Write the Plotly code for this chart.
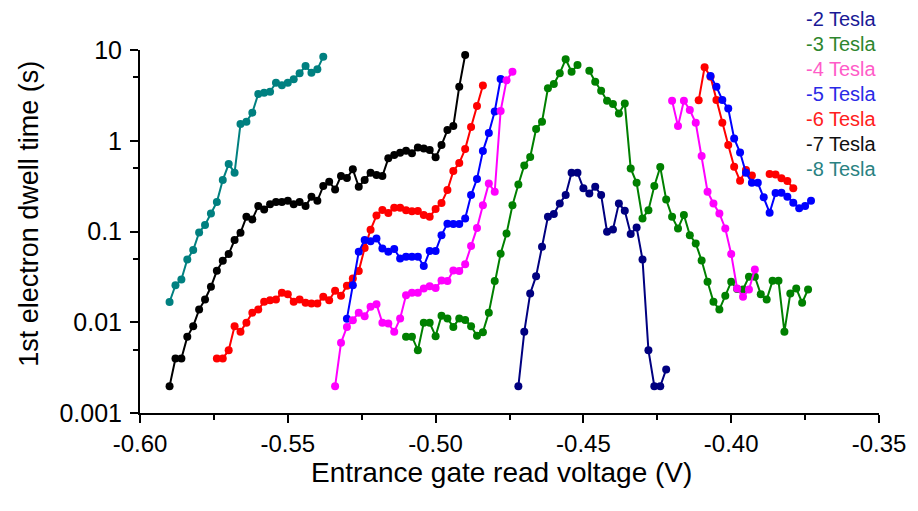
import plotly.graph_objects as go

# ---------------- data ----------------
# -8 Tesla
v8 = [-0.590, -0.588, -0.586, -0.584, -0.582, -0.580, -0.578, -0.576, -0.574, -0.572,
      -0.570, -0.568, -0.566, -0.564, -0.562, -0.560, -0.558, -0.556, -0.554, -0.552,
      -0.550, -0.548, -0.546, -0.544, -0.542, -0.540, -0.538]
t8 = [0.0167, 0.0256, 0.0296, 0.0492, 0.0624, 0.0977, 0.118, 0.158, 0.211, 0.369,
      0.553, 0.445, 1.53, 1.62, 2.04, 3.27, 3.39, 3.47, 4.36, 4.08,
      4.36, 4.75, 5.54, 6.66, 5.62, 6.12, 8.44]

# -7 Tesla
v7 = [-0.590, -0.588, -0.586, -0.584, -0.582, -0.580, -0.578, -0.576, -0.574, -0.572,
      -0.570, -0.568, -0.566, -0.564, -0.562, -0.560, -0.558, -0.556, -0.554, -0.552,
      -0.550, -0.548, -0.546, -0.544, -0.542, -0.540, -0.538, -0.536, -0.534, -0.532,
      -0.530, -0.528, -0.526, -0.524, -0.522, -0.520, -0.518, -0.516, -0.514, -0.512,
      -0.510, -0.508, -0.506, -0.504, -0.502, -0.500, -0.498, -0.496, -0.494, -0.492,
      -0.490]
t7 = [0.00197, 0.00399, 0.00399, 0.0069, 0.00906, 0.0138, 0.0178, 0.0246, 0.0369, 0.0475,
      0.0564, 0.0804, 0.0968, 0.145, 0.136, 0.1905, 0.175, 0.200, 0.212, 0.212,
      0.218, 0.200, 0.212, 0.1905, 0.241, 0.218, 0.317, 0.353, 0.291, 0.408,
      0.388, 0.484, 0.311, 0.369, 0.444, 0.419, 0.408, 0.640, 0.695, 0.738,
      0.776, 0.726, 0.845, 0.824, 0.789, 0.656, 0.897, 1.31, 1.45, 3.94,
      8.81]

# -6 Tesla (two branches, separated by None)
v6 = [-0.574, -0.572, -0.570, -0.568, -0.566, -0.564, -0.562, -0.560, -0.558, -0.556,
      -0.554, -0.552, -0.550, -0.548, -0.546, -0.544, -0.542, -0.540, -0.538, -0.536,
      -0.534, -0.532, -0.530, -0.528, -0.526, -0.524, -0.522, -0.520, -0.518, -0.516,
      -0.514, -0.512, -0.510, -0.508, -0.506, -0.504, -0.502, -0.500, -0.498, -0.496,
      -0.494, -0.492, -0.490, -0.488, -0.486, -0.484,
      None,
      -0.411, -0.409, -0.407, -0.405, -0.403, -0.401, -0.399, -0.397, -0.395, -0.393,
      None,
      -0.387, -0.385, -0.383, -0.381, -0.379]
t6 = [0.00399, 0.00399, 0.00492, 0.00906, 0.00784, 0.00985, 0.0127, 0.0138, 0.0168, 0.0175,
      0.0178, 0.0211, 0.0204, 0.0168, 0.0178, 0.0164, 0.0161, 0.0161, 0.0191, 0.0175,
      0.0222, 0.0196, 0.0253, 0.0304, 0.0366, 0.0656, 0.1045, 0.150, 0.173, 0.160,
      0.183, 0.183, 0.171, 0.167, 0.168, 0.152, 0.145, 0.177, 0.206, 0.286,
      0.463, 0.568, 0.810, 1.42, 2.41, 4.06,
      None,
      2.79, 6.45, 5.08, 2.81, 1.58, 0.897, 0.517, 0.362, 0.475, 0.413,
      None,
      0.430, 0.425, 0.385, 0.360, 0.299]

# -5 Tesla
v5 = [-0.530, -0.528, -0.526, -0.524, -0.522, -0.520, -0.518, -0.516, -0.514, -0.512,
      -0.510, -0.508, -0.506, -0.504, -0.502, -0.500, -0.498, -0.496, -0.494, -0.492,
      -0.490, -0.488, -0.486, -0.484, -0.482, -0.480, -0.478,
      None,
      -0.407, -0.405, -0.403, -0.401, -0.399, -0.397, -0.395, -0.393, -0.391, -0.389,
      -0.387, -0.385, -0.383, -0.381, -0.379, -0.377, -0.375, -0.373]
t5 = [0.01096, 0.0256, 0.0597, 0.0804, 0.0783, 0.0839, 0.0651, 0.0597, 0.0640, 0.0505,
      0.0526, 0.0526, 0.0528, 0.0416, 0.0608, 0.0608, 0.0912, 0.122, 0.121, 0.121,
      0.139, 0.252, 0.378, 0.769, 1.22, 2.10, 4.79,
      None,
      5.17, 3.94, 2.81, 2.26, 1.06, 0.741, 0.444, 0.344, 0.344, 0.239,
      0.161, 0.265, 0.267, 0.241, 0.207, 0.180, 0.1905, 0.218]

# -4 Tesla
v4 = [-0.534, -0.532, -0.530, -0.528, -0.526, -0.524, -0.522, -0.520, -0.518, -0.516,
      -0.514, -0.512, -0.510, -0.508, -0.506, -0.504, -0.502, -0.500, -0.498, -0.496,
      -0.494, -0.492, -0.490, -0.488, -0.486, -0.484, -0.482, -0.480, -0.478, -0.476,
      -0.474,
      None,
      -0.420, -0.418, -0.416, -0.414, -0.412, -0.410, -0.408, -0.406, -0.404, -0.402,
      -0.400, -0.398, -0.396, -0.394, -0.392]
t4 = [0.00197, 0.00593, 0.00889, 0.01054, 0.0127, 0.01167, 0.0148, 0.0158, 0.00985, 0.0097,
      0.00784, 0.0110, 0.0199, 0.0212, 0.0212, 0.0236, 0.0250, 0.0238, 0.0288, 0.0284,
      0.0371, 0.0366, 0.0437, 0.0690, 0.109, 0.195, 0.339, 0.274, 2.13, 4.63,
      5.76,
      None,
      2.76, 1.45, 2.76, 2.18, 1.58, 0.678, 0.274, 0.204, 0.158, 0.108,
      0.0564, 0.0236, 0.0191, 0.0230, 0.0382]

# -3 Tesla
v3 = [-0.510, -0.508, -0.506, -0.504, -0.502, -0.500, -0.498, -0.496, -0.494, -0.492,
      -0.490, -0.488, -0.486, -0.484, -0.482, -0.480, -0.478, -0.476, -0.474, -0.472,
      -0.470, -0.468, -0.466, -0.464, -0.462, -0.460, -0.458, -0.456, -0.454, -0.452,
      -0.450, -0.448, -0.446, -0.444, -0.442, -0.440, -0.438, -0.436, -0.434, -0.432,
      -0.430, -0.428, -0.426, -0.424, -0.422, -0.420, -0.418, -0.416, -0.414, -0.412,
      -0.410, -0.408, -0.406, -0.404, -0.402, -0.400, -0.398, -0.396, -0.394, -0.392,
      -0.390, -0.388, -0.386, -0.384, -0.382, -0.380, -0.378, -0.376, -0.374]
t3 = [0.00693, 0.00693, 0.00492, 0.00985, 0.00985, 0.00703, 0.01183, 0.0110, 0.00889, 0.0110,
      0.0106, 0.00906, 0.00711, 0.00778, 0.01276, 0.0284, 0.0570, 0.0948, 0.195, 0.329,
      0.533, 0.661, 1.35, 1.62, 3.78, 4.22, 5.54, 7.90, 5.76, 6.83,
      None, 5.91, 4.47, 3.56, 2.76, 2.54, 2.00, 2.58, 0.496, 0.344,
      0.139, 0.172, 0.317, 0.513, 0.225, 0.145, 0.108, 0.152, 0.0912, 0.0739,
      0.0478, 0.0279, 0.0168, 0.0138, 0.0196, 0.0279, 0.0232, 0.0230, 0.0317, 0.0317,
      0.0204, 0.0178, 0.0286, 0.0286, 0.00784, 0.0208, 0.0236, 0.0164, 0.0230]

# -2 Tesla
v2 = [-0.472, -0.470, -0.468, -0.466, -0.464, -0.462, -0.460, -0.458, -0.456, -0.454,
      -0.452, -0.450, -0.448, -0.446, -0.444, -0.442, -0.440, -0.438, -0.436, -0.434,
      -0.432, -0.430, -0.428, -0.426, -0.424, -0.422]
t2 = [0.00197, 0.00784, 0.0208, 0.0322, 0.0678, 0.145, 0.156, 0.204, 0.252, 0.444,
      0.444, 0.299, 0.263, 0.311, 0.252, 0.0993, 0.1054, 0.204, 0.169, 0.0936,
      0.111, 0.0492, 0.00492, 0.00197, 0.00197, 0.00302]

labels = ["-2 Tesla", "-3 Tesla", "-4 Tesla", "-5 Tesla", "-6 Tesla", "-7 Tesla", "-8 Tesla"]
line_colors = ["#000080", "#008000", "#FF00FF", "#0000FF", "#FF0000", "#000000", "#008080"]
label_colors = ["#1A1A96", "#2E862E", "#FF5CC8", "#2A2AE6", "#FF2020", "#101010", "#2A8282"]

x_ticks = [-0.60, -0.55, -0.50, -0.45, -0.40, -0.35]
x_ticktext = ["-0.60", "-0.55", "-0.50", "-0.45", "-0.40", "-0.35"]
y_ticks = [0.001, 0.01, 0.1, 1, 10]
y_ticktext = ["0.001", "0.01", "0.1", "1", "10"]
x_minor = [-0.575, -0.525, -0.475, -0.425, -0.375]
y_minor = [0.005, 0.05, 0.5, 5]

FONT = "Arial, 'Liberation Sans', sans-serif"

series = {
    "-8 Tesla": (v8, t8),
    "-7 Tesla": (v7, t7),
    "-6 Tesla": (v6, t6),
    "-5 Tesla": (v5, t5),
    "-3 Tesla": (v3, t3),
    "-4 Tesla": (v4, t4),
    "-2 Tesla": (v2, t2),
}

fig = go.Figure()
for name, (xs, ys) in series.items():
    c = line_colors[labels.index(name)]
    fig.add_trace(go.Scatter(
        x=xs, y=ys, mode="lines+markers", name=name,
        line=dict(color=c, width=2),
        marker=dict(color=c, size=8, symbol="circle"),
        connectgaps=False, showlegend=False,
    ))

# legend as coloured text
for i, (lab, col) in enumerate(zip(labels, label_colors)):
    fig.add_annotation(
        xref="paper", yref="paper", x=(808 - 140) / (884 - 140),
        y=(413 - (19 + 25 * i)) / (413 - 50),
        xanchor="left", yanchor="middle", showarrow=False,
        text=lab, font=dict(family=FONT, size=20, color=col),
    )

# axis titles
fig.add_annotation(
    xref="paper", yref="paper", x=(504 - 140) / (884 - 140), y=-(472 - 413) / (413 - 50),
    xanchor="center", yanchor="middle", showarrow=False,
    text="Entrance gate read voltage (V)", font=dict(family=FONT, size=28, color="black"),
)
fig.add_annotation(
    xref="paper", yref="paper", x=-(140 - 28) / (884 - 140), y=(413 - 214) / (413 - 50),
    xanchor="center", yanchor="middle", showarrow=False, textangle=-90,
    text="1st electron dwell time (s)", font=dict(family=FONT, size=27, color="black"),
)

fig.update_layout(
    width=918, height=511,
    margin=dict(l=140, r=34, t=50, b=98),
    paper_bgcolor="white", plot_bgcolor="white",
    showlegend=False,
    font=dict(family=FONT, color="black"),
)
fig.update_xaxes(
    range=[-0.60, -0.35], showgrid=False, zeroline=False,
    showline=True, linecolor="black", linewidth=2,
    tickmode="array", tickvals=x_ticks, ticktext=x_ticktext,
    ticks="outside", ticklen=8, tickwidth=2, tickcolor="black",
    tickfont=dict(family=FONT, size=24, color="black"),
    minor=dict(tickmode="array", tickvals=x_minor, ticks="outside", ticklen=5,
               tickwidth=2, tickcolor="black", showgrid=False),
)
fig.update_yaxes(
    type="log", range=[-3, 1], showgrid=False, zeroline=False,
    showline=True, linecolor="black", linewidth=2,
    tickmode="array", tickvals=y_ticks, ticktext=y_ticktext,
    ticks="outside", ticklen=8, tickwidth=2, tickcolor="black",
    ticklabelstandoff=3,
    tickfont=dict(family=FONT, size=25, color="black"),
    minor=dict(tickmode="array", tickvals=y_minor, ticks="outside", ticklen=5,
               tickwidth=2, tickcolor="black", showgrid=False),
)

fig.write_html("out.html")
